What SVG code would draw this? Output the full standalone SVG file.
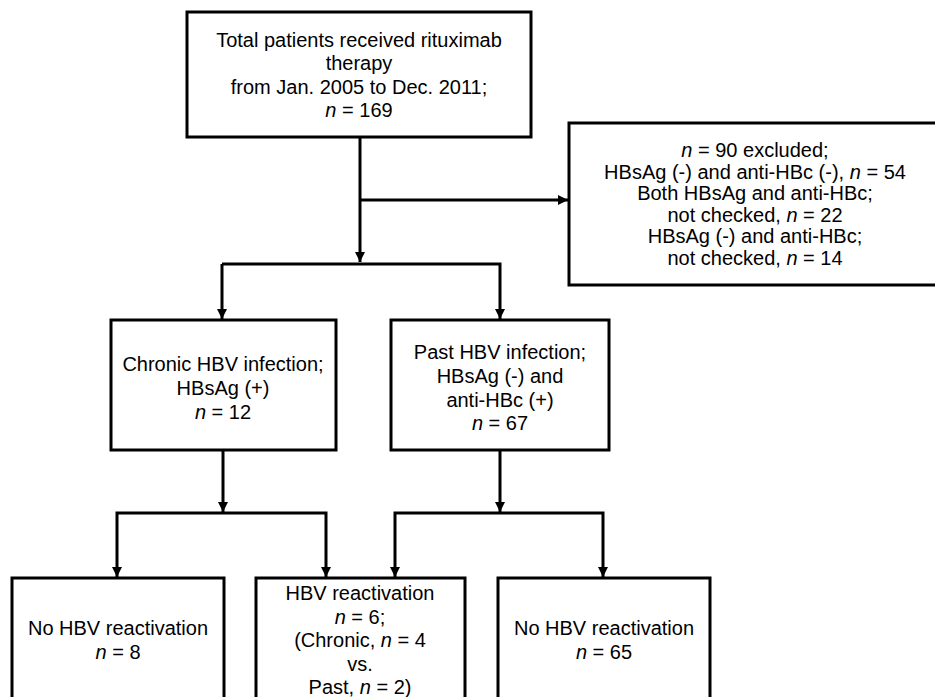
<svg xmlns="http://www.w3.org/2000/svg" width="935" height="697" viewBox="0 0 935 697">
<style>
.box{fill:#fff;stroke:#000;stroke-width:3}
.ln{fill:none;stroke:#000;stroke-width:3}
text{font-family:"Liberation Sans",Arial,sans-serif;font-size:20px;fill:#000;text-anchor:middle}
.i{font-style:italic}
</style>
<defs>
<marker id="ah" markerUnits="userSpaceOnUse" markerWidth="10" markerHeight="10" refX="10" refY="5" orient="auto">
<path d="M0,0 L10,5 L0,10 z" fill="#000"/>
</marker>
</defs>
<rect width="935" height="697" fill="#fff"/>
<g id="connectors">
<path class="ln" d="M360,137 V262" marker-end="url(#ah)"/>
<path class="ln" d="M360,200 H568" marker-end="url(#ah)"/>
<path class="ln" d="M222,264 H500 V319" marker-end="url(#ah)"/>
<path class="ln" d="M222,264 V319" marker-end="url(#ah)"/>
<path class="ln" d="M223,450 V512" marker-end="url(#ah)"/>
<path class="ln" d="M500,450 V512" marker-end="url(#ah)"/>
<path class="ln" d="M222,513 H117 V577" marker-end="url(#ah)"/>
<path class="ln" d="M222,513 H326 V577" marker-end="url(#ah)"/>
<path class="ln" d="M500,513 H395 V577" marker-end="url(#ah)"/>
<path class="ln" d="M500,513 H603 V577" marker-end="url(#ah)"/>
</g>
<g id="n_total">
<rect class="box" x="187" y="12" width="344" height="125"/>
<text x="359" y="47">Total patients received rituximab</text>
<text x="359" y="70">therapy</text>
<text x="359" y="94">from Jan. 2005 to Dec. 2011;</text>
<text x="359" y="117"><tspan class="i">n</tspan> = 169</text>
</g>
<g id="n_excluded">
<rect class="box" x="569" y="123" width="372" height="162"/>
<text x="755" y="157"><tspan class="i">n</tspan> = 90 excluded;</text>
<text x="755" y="179">HBsAg (-) and anti-HBc (-), <tspan class="i">n</tspan> = 54</text>
<text x="755" y="200">Both HBsAg and anti-HBc;</text>
<text x="755" y="222">not checked, <tspan class="i">n</tspan> = 22</text>
<text x="755" y="243">HBsAg (-) and anti-HBc;</text>
<text x="755" y="265">not checked, <tspan class="i">n</tspan> = 14</text>
</g>
<g id="n_chronic">
<rect class="box" x="111" y="320" width="225" height="130"/>
<text x="223" y="371">Chronic HBV infection;</text>
<text x="223" y="395">HBsAg (+)</text>
<text x="223" y="419"><tspan class="i">n</tspan> = 12</text>
</g>
<g id="n_past">
<rect class="box" x="391" y="320" width="218" height="130"/>
<text x="500" y="359">Past HBV infection;</text>
<text x="500" y="383">HBsAg (-) and</text>
<text x="500" y="407">anti-HBc (+)</text>
<text x="500" y="430"><tspan class="i">n</tspan> = 67</text>
</g>
<g id="n_noreact1">
<rect class="box" x="12" y="578" width="212" height="140"/>
<text x="118" y="635">No HBV reactivation</text>
<text x="118" y="659"><tspan class="i">n</tspan> = 8</text>
</g>
<g id="n_react">
<rect class="box" x="256" y="578" width="209" height="140"/>
<text x="360" y="600">HBV reactivation</text>
<text x="360" y="624"><tspan class="i">n</tspan> = 6;</text>
<text x="360" y="647">(Chronic, <tspan class="i">n</tspan> = 4</text>
<text x="360" y="671">vs.</text>
<text x="360" y="694">Past, <tspan class="i">n</tspan> = 2)</text>
</g>
<g id="n_noreact2">
<rect class="box" x="498" y="578" width="212" height="140"/>
<text x="604" y="635">No HBV reactivation</text>
<text x="604" y="659"><tspan class="i">n</tspan> = 65</text>
</g>
</svg>
